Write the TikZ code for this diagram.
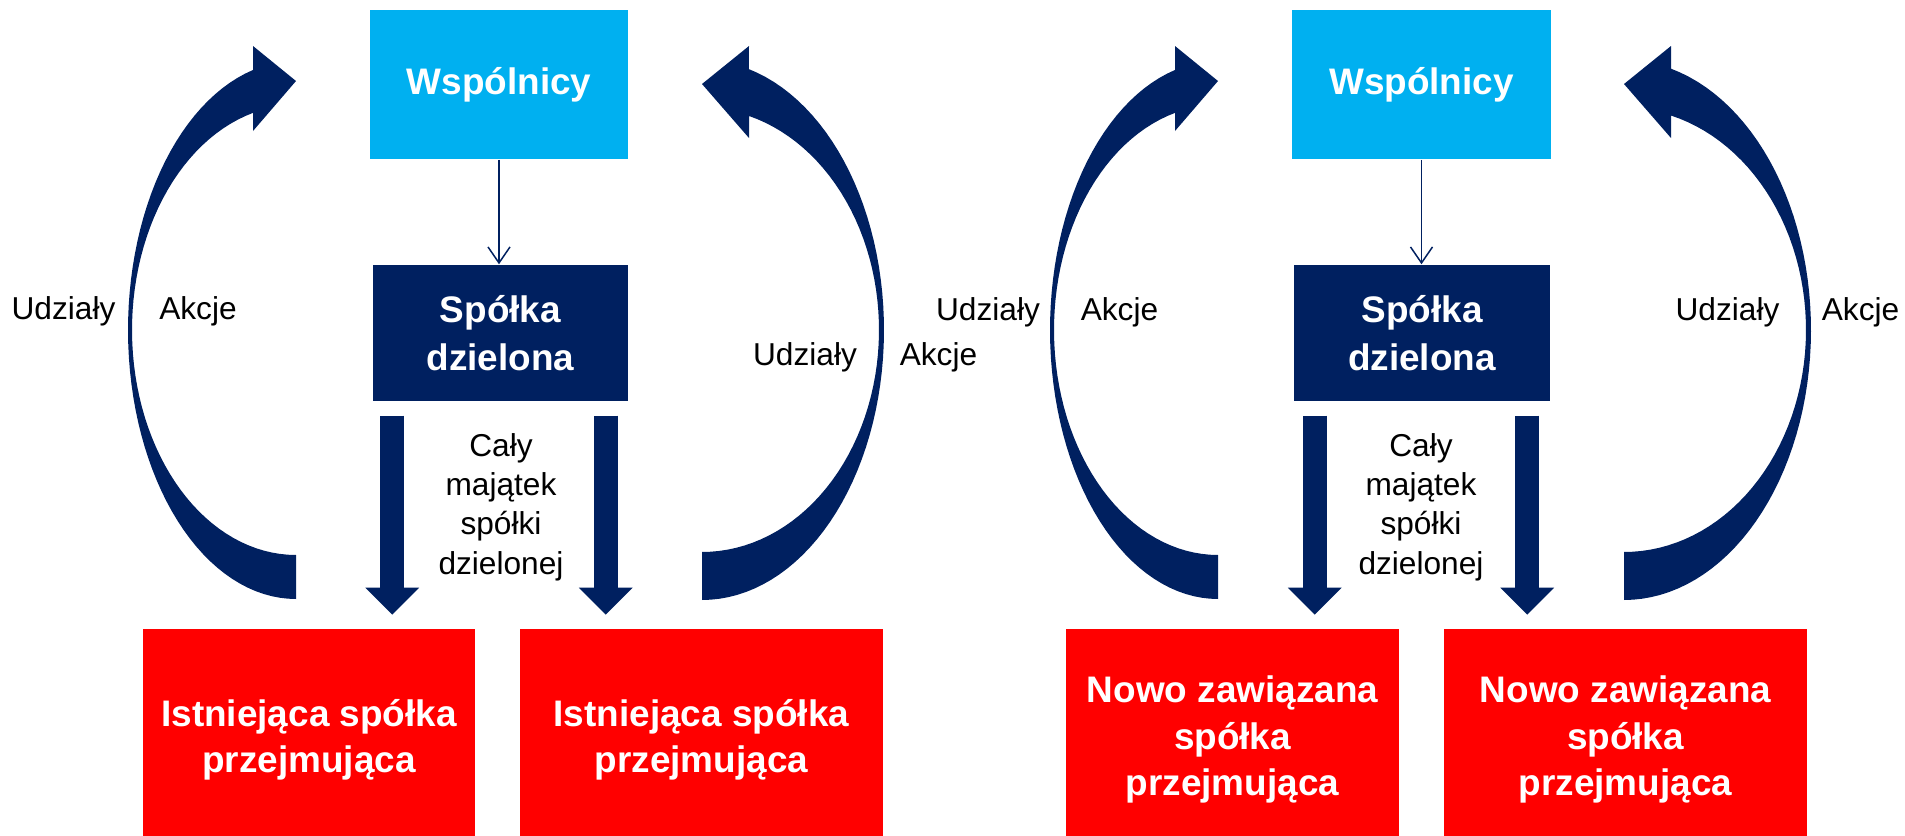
\documentclass[tikz,border=0pt]{standalone}
\usepackage{fontspec}
\setmainfont{Liberation Sans}
\usetikzlibrary{arrows.meta,calc}
\definecolor{navy}{HTML}{002060}
\definecolor{skyblue}{HTML}{00B0F0}
\definecolor{boxred}{HTML}{FF0000}
\tikzset{
  partners/.style={fill=skyblue, text=white, font=\fontsize{10.5}{13.6}\selectfont\bfseries,
    minimum width=2.58cm, minimum height=1.49cm, inner sep=0pt, align=center},
  divided/.style={fill=navy, text=white, font=\fontsize{10.5}{13.6}\selectfont\bfseries,
    minimum width=2.55cm, minimum height=1.36cm, inner sep=0pt, align=center},
  acquirer/.style={fill=boxred, text=white, font=\fontsize{10.5}{13.1}\selectfont\bfseries,
    minimum height=2.21cm, inner sep=0pt, align=center},
  plaintext/.style={font=\fontsize{9}{11.2}\selectfont, inner sep=0pt, align=center},
  thinarrow/.style={navy, line width=0.015cm, -{Straight Barb[width=0.22cm,length=0.16cm]}},
  bigarrow/.style={navy, line width=0.24cm, -{Triangle[width=0.52cm,length=0.27cm]}},
}
\begin{document}
\begin{tikzpicture}[x=0.01cm, y=-0.01cm]
  \useasboundingbox (0,0) rectangle (1905,836);

  % left half
  \node[partners] (wL) at (499,84.5) {Wspólnicy};
  \node[divided] (dzL) at (500.5,333) {Spółka\\dzielona};
  \node[acquirer, minimum width=3.32cm] (exL1) at (309,739.5) {Istniejąca spółka\\przejmująca};
  \node[acquirer, minimum width=3.63cm] (exL2) at (701.5,739.5) {Istniejąca spółka\\przejmująca};
  \node[plaintext] (asL) at (501,507) {Cały\\majątek\\spółki\\dzielonej};
  \draw[thinarrow] (wL.south) -- (wL.south |- dzL.north);
  \draw[bigarrow] ($(dzL.south west)+(20,14)$) -- ($(dzL.south west)+(20,213)$);
  \draw[bigarrow] ($(dzL.south east)+(-23,14)$) -- ($(dzL.south east)+(-23,213)$);
  \fill[navy] plot[variable=\t, domain=270:104.8, samples=60] ({296+168*cos(\t)},{330-269*sin(\t)})
    -- (253,46) -- (296,81) -- (253,131)
    -- plot[variable=\t, domain=105.2:270, samples=60] ({296+164*cos(\t)},{330-225*sin(\t)}) -- cycle;
  \fill[navy] plot[variable=\t, domain=-90:75.1, samples=60] ({702+182*cos(\t)},{330-270*sin(\t)})
    -- (749,46) -- (702,84) -- (749,138)
    -- plot[variable=\t, domain=74.6:-90, samples=60] ({702+177*cos(\t)},{330-222*sin(\t)}) -- cycle;
  \node[plaintext] (udL1) at (63.5,311) {Udziały};
  \node[plaintext] (akL1) at (198,311) {Akcje};
  \node[plaintext] (udL2) at (805,357) {Udziały};
  \node[plaintext] (akL2) at (938.5,357) {Akcje};

  % right half
  \node[partners] (wR) at (1421.5,84.5) {Wspólnicy};
  \node[divided] (dzR) at (1422,333) {Spółka\\dzielona};
  \node[acquirer, minimum width=3.33cm] (exR1) at (1232.5,739.5) {Nowo zawiązana\\spółka\\przejmująca};
  \node[acquirer, minimum width=3.63cm] (exR2) at (1625.5,739.5) {Nowo zawiązana\\spółka\\przejmująca};
  \node[plaintext] (asR) at (1421,507) {Cały\\majątek\\spółki\\dzielonej};
  \draw[thinarrow] (wR.south) -- (wR.south |- dzR.north);
  \draw[bigarrow] ($(dzR.south west)+(21,14)$) -- ($(dzR.south west)+(21,213)$);
  \draw[bigarrow] ($(dzR.south east)+(-23,14)$) -- ($(dzR.south east)+(-23,213)$);
  \fill[navy] plot[variable=\t, domain=270:104.8, samples=60] ({1218+168*cos(\t)},{330-269*sin(\t)})
    -- (1175,46) -- (1218,81) -- (1175,131)
    -- plot[variable=\t, domain=105.2:270, samples=60] ({1218+164*cos(\t)},{330-225*sin(\t)}) -- cycle;
  \fill[navy] plot[variable=\t, domain=-90:75.4, samples=60] ({1624+187*cos(\t)},{330-270*sin(\t)})
    -- (1671,46) -- (1624,84) -- (1671,138)
    -- plot[variable=\t, domain=75:-90, samples=60] ({1624+182*cos(\t)},{330-222*sin(\t)}) -- cycle;
  \node[plaintext] (udR1) at (988,312) {Udziały};
  \node[plaintext] (akR1) at (1119.5,312) {Akcje};
  \node[plaintext] (udR2) at (1727.5,312) {Udziały};
  \node[plaintext] (akR2) at (1860.5,312) {Akcje};
\end{tikzpicture}
\end{document}
